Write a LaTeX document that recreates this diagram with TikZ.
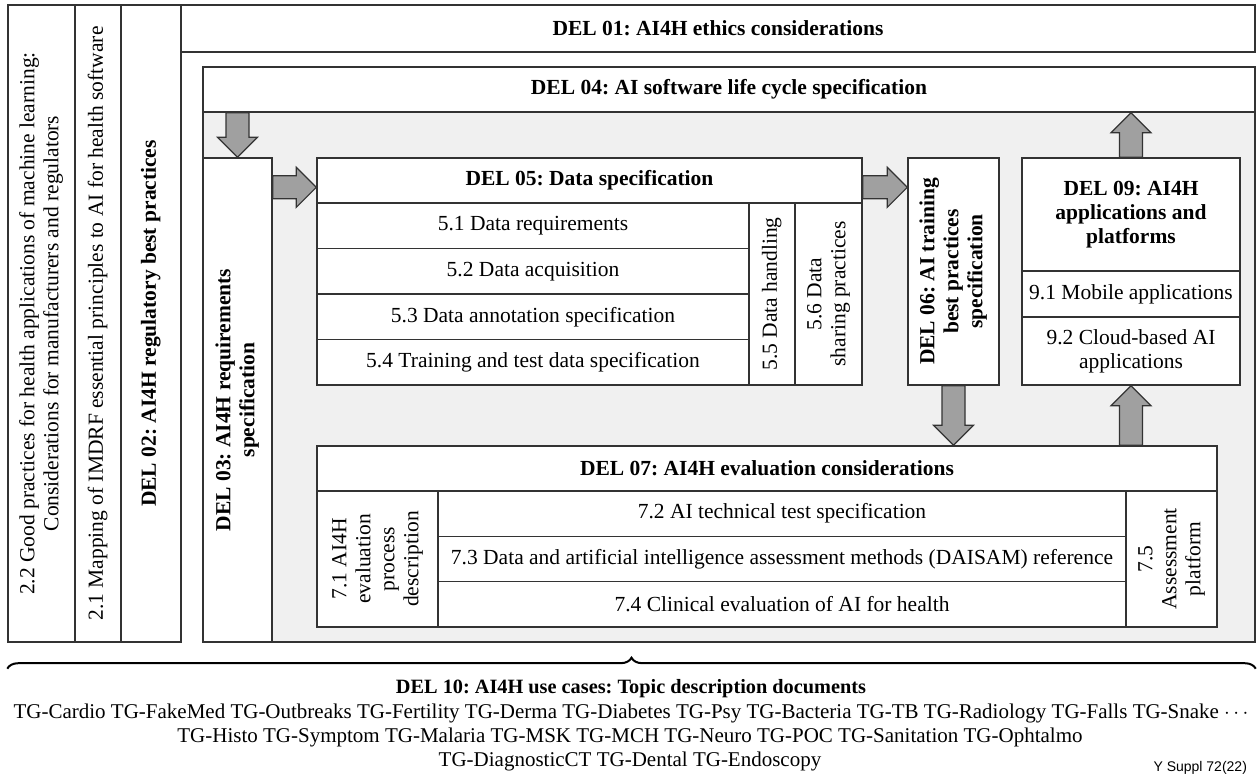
\documentclass[tikz,border=0pt]{standalone}
\usepackage{fontspec}
\setmainfont{Liberation Serif}
\newfontfamily\figsans{Liberation Sans}
\usepackage{tikz}
\usetikzlibrary{calc,positioning,decorations.pathreplacing}

\definecolor{panelgray}{HTML}{F0F0F0}
\definecolor{arrowgray}{HTML}{A0A0A0}
\definecolor{linegray}{HTML}{333333}

\frenchspacing
\tikzset{
	box/.style={draw=linegray, line width=1.4pt, fill=white, inner sep=0pt, align=center},
	cell/.style 2 args={box, minimum width=#1pt, minimum height=#2pt},
	fatarrow/.style={draw=linegray, line width=1.2pt, fill=arrowgray},
}
\newcommand{\vtext}[1]{\rotatebox{90}{\begin{tabular}{@{}c@{}}#1\end{tabular}}}
\newcommand{\blockarrow}[2]{%
	\coordinate (ah) at ($(#2)!20pt!(#1)$);
	\draw[fatarrow] ($(#1)!11.5pt!90:(#2)$) -- ($(ah)!11.5pt!90:(#2)$) -- ($(ah)!20pt!90:(#2)$)
		-- (#2) -- ($(ah)!20pt!-90:(#2)$) -- ($(ah)!11.5pt!-90:(#2)$) -- ($(#1)!11.5pt!-90:(#2)$) -- cycle;}

\begin{document}
\begin{tikzpicture}[x=1pt, y=-1pt, font=\fontsize{21.5}{24}\selectfont]
			\useasboundingbox (0,0) rectangle (1258,774);

			\node[cell={67}{637}] (n22) at(41.5, 323.5){\vtext{2.2 Good practices for health applications of machine learning:\\Considerations for manufacturers and regulators}};
			\node[cell={46}{637}] (n21) at(98, 323.5){\vtext{2.1 Mapping of IMDRF essential principles to AI for health software}};
			\node[cell={60}{637}] (del02) at(151, 323.5){\vtext{\bfseries DEL 02: AI4H regulatory best practices}};
			\node[cell={1074}{47}] (del01) at(718, 28.5){\bfseries DEL 01: AI4H ethics considerations};

			\node[cell={1052}{575}, fill=panelgray] (del04) at(729, 354.5){};
			\node[cell={1052}{45}] (hd04) at(729, 89.5){\bfseries DEL 04: AI software life cycle specification};
			\node[cell={69}{484}] (del03) at(237.5, 400){\vtext{\bfseries DEL 03: AI4H requirements\\\bfseries specification}};

				\node[cell={545}{45}] (hd05) at(589.5, 180.5){\bfseries DEL 05: Data specification};
				\node[cell={432}{45.5}] (r51) at(533, 225.75){5.1 Data requirements};
				\node[cell={432}{45.5}] (r52) at(533, 271.25){5.2 Data acquisition};
				\node[cell={432}{45.5}] (r53) at(533, 316.75){5.3 Data annotation specification};
				\node[cell={432}{45.5}] (r54) at(533, 362.25){5.4 Training and test data specification};
				\node[cell={46}{182}] (r55) at(772, 294){\vtext{5.5 Data handling}};
				\node[cell={67}{182}] (r56) at(828.5, 294){\vtext{5.6 Data\\sharing practices}};

			\node[cell={91}{227}] (del06) at(953.5, 271.5){\vtext{\bfseries DEL 06: AI training\\\bfseries best practices\\\bfseries specification}};

				\node[cell={218}{113}] (hd09) at(1131, 214.5){\bfseries DEL 09: AI4H\\\bfseries applications and\\\bfseries platforms};
				\node[cell={218}{46}] (r91) at(1131, 294){9.1 Mobile applications};
				\node[cell={218}{68}] (r92) at(1131, 351){9.2 Cloud-based AI\\applications};

				\node[cell={900}{45}] (hd07) at(767, 468.5){\bfseries DEL 07: AI4H evaluation considerations};
				\node[cell={121}{136}] (r71) at(377.5, 559){\vtext{7.1 AI4H\\evaluation\\process\\description}};
				\node[cell={688}{45.33}] (r72) at(782, 513.7){7.2 AI technical test specification};
				\node[cell={688}{45.33}] (r73) at(782, 559){7.3 Data and artificial intelligence assessment methods (DAISAM) reference};
				\node[cell={688}{45.33}] (r74) at(782, 604.3){7.4 Clinical evaluation of AI for health};
				\node[cell={91}{136}] (r75) at(1171.5, 559){\vtext{7.5\\Assessment\\platform}};

			\blockarrow{del03.north |- hd04.south}{del03.north}
			\coordinate (a35) at ([yshift=-30pt]del03.north east);
			\blockarrow{a35}{a35 -| hd05.west}
			\blockarrow{a35 -| hd05.east}{a35 -| del06.west}
			\blockarrow{del06.south}{del06.south |- hd07.north}
			\blockarrow{r92.south |- hd07.north}{r92.south}
			\blockarrow{hd09.north}{hd09.north |- hd04.south}

			\draw[line width=2pt, decorate, decoration={brace, amplitude=11pt}]
				([yshift=-26pt]n22.south west) -- ([yshift=-26pt]del04.south east);

			\node[anchor=base, font=\bfseries\fontsize{20.3}{24}\selectfont] (del10) at(631, 693){DEL 10: AI4H use cases: Topic description documents};
			\node[anchor=base, font=\fontsize{21}{24}\selectfont] (tg1) at(631, 718){TG-Cardio TG-FakeMed TG-Outbreaks TG-Fertility TG-Derma TG-Diabetes TG-Psy TG-Bacteria TG-TB TG-Radiology TG-Falls TG-Snake $\cdots$};
			\node[anchor=base, font=\fontsize{21}{24}\selectfont] (tg2) at(630, 742){TG-Histo TG-Symptom TG-Malaria TG-MSK TG-MCH TG-Neuro TG-POC TG-Sanitation TG-Ophtalmo};
			\node[anchor=base, font=\fontsize{21}{24}\selectfont] (tg3) at(630, 766){TG-DiagnosticCT TG-Dental TG-Endoscopy};
			\node[anchor=base west, font=\figsans\fontsize{14}{17}\selectfont] (ysup) at(1150, 771){Y Suppl 72(22)};

\end{tikzpicture}
\end{document}
